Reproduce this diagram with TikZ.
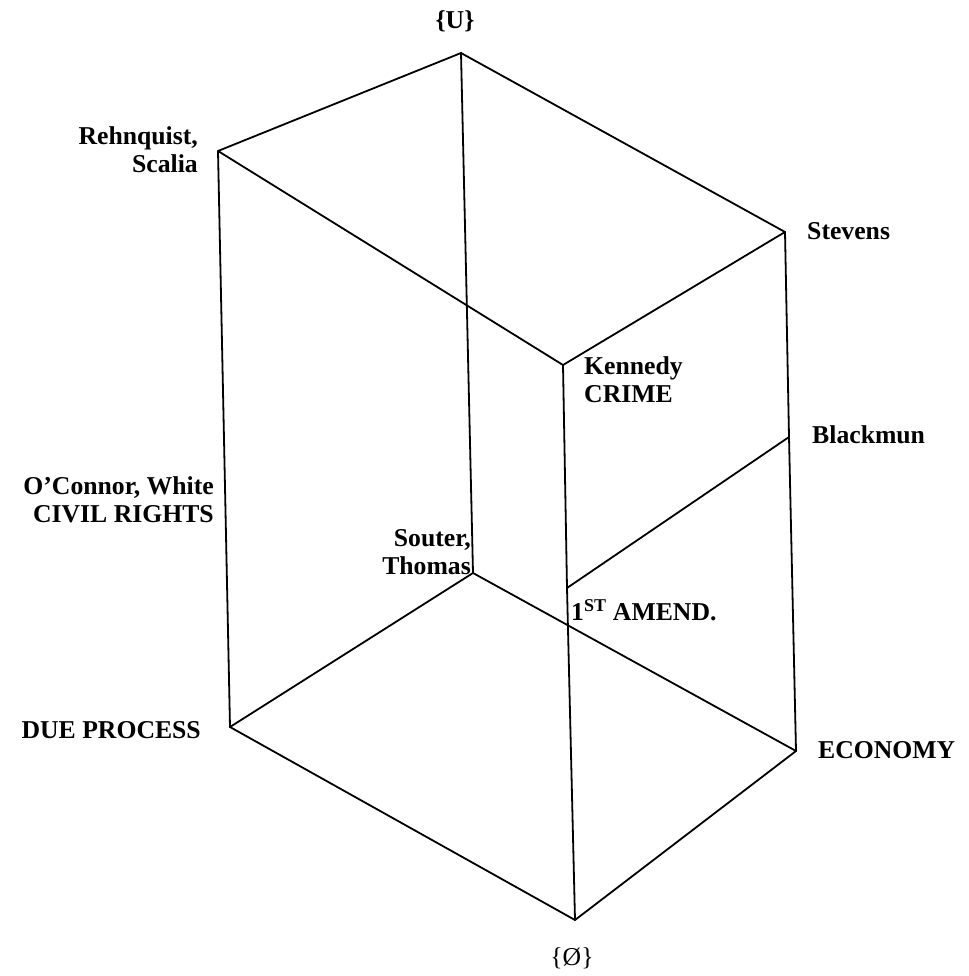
\documentclass[tikz,border=0pt]{standalone}
\usepackage{fontspec}
\setmainfont{Liberation Serif}
\usetikzlibrary{positioning}

\begin{document}
\begin{tikzpicture}[x=1pt,y=-1pt,
    edge/.style={line width=1.8pt, line cap=round, line join=round},
    lab/.style={font=\fontsize{25.7}{28}\selectfont\bfseries, inner sep=0pt}]
    \useasboundingbox (0,0) rectangle (968,976);

    % corners of the cube
    \coordinate (top) at (461,53);
    \coordinate (rehnquist) at (218,151);
    \coordinate (stevens) at (785,232);
    \coordinate (kennedy) at (563,365);
    \coordinate (souter) at (473,573);
    \coordinate (dueproc) at (230,727);
    \coordinate (economy) at (796,751);
    \coordinate (bottom) at (575,920);
    % points on the edges
    \coordinate (blackmun) at (789,437);
    \coordinate (firstam) at (567,588);

    \draw[edge] (rehnquist) -- (top) -- (stevens) -- (kennedy) -- (rehnquist);
    \draw[edge] (top) -- (souter);
    \draw[edge] (rehnquist) -- (dueproc);
    \draw[edge] (stevens) -- (blackmun) -- (economy);
    \draw[edge] (kennedy) -- (firstam) -- (bottom);
    \draw[edge] (blackmun) -- (firstam);
    \draw[edge] (dueproc) -- (souter) -- (economy);
    \draw[edge] (dueproc) -- (bottom) -- (economy);

    % labels
    \node[lab] (ulab) at (455,21) {\{U\}};
    \node[lab, anchor=east, align=right] (rslab) at (198,150) {Rehnquist,\\Scalia};
    \node[lab, anchor=west] (stlab) at (807,231) {Stevens};
    \node[lab, anchor=north west, align=left] (kclab) at (584,356) {Kennedy\\CRIME};
    \node[lab, anchor=west] (bllab) at (812,435) {Blackmun};
    \node[lab, anchor=east, align=right] (ocrlab) at (214,500) {O’Connor, White\\CIVIL RIGHTS};
    \node[lab, anchor=east, align=right] (stlab2) at (471,552) {Souter,\\Thomas};
    \node[lab, anchor=west] (falab) at (571,610) {1\textsuperscript{ST} AMEND.};
    \node[lab, anchor=east] (dplab) at (201,730) {DUE PROCESS};
    \node[lab, anchor=west] (eclab) at (818,750) {ECONOMY};
    \node[font=\fontsize{25.7}{28}\selectfont, inner sep=0pt] (elab) at (572,958) {\{Ø\}};
\end{tikzpicture}
\end{document}
